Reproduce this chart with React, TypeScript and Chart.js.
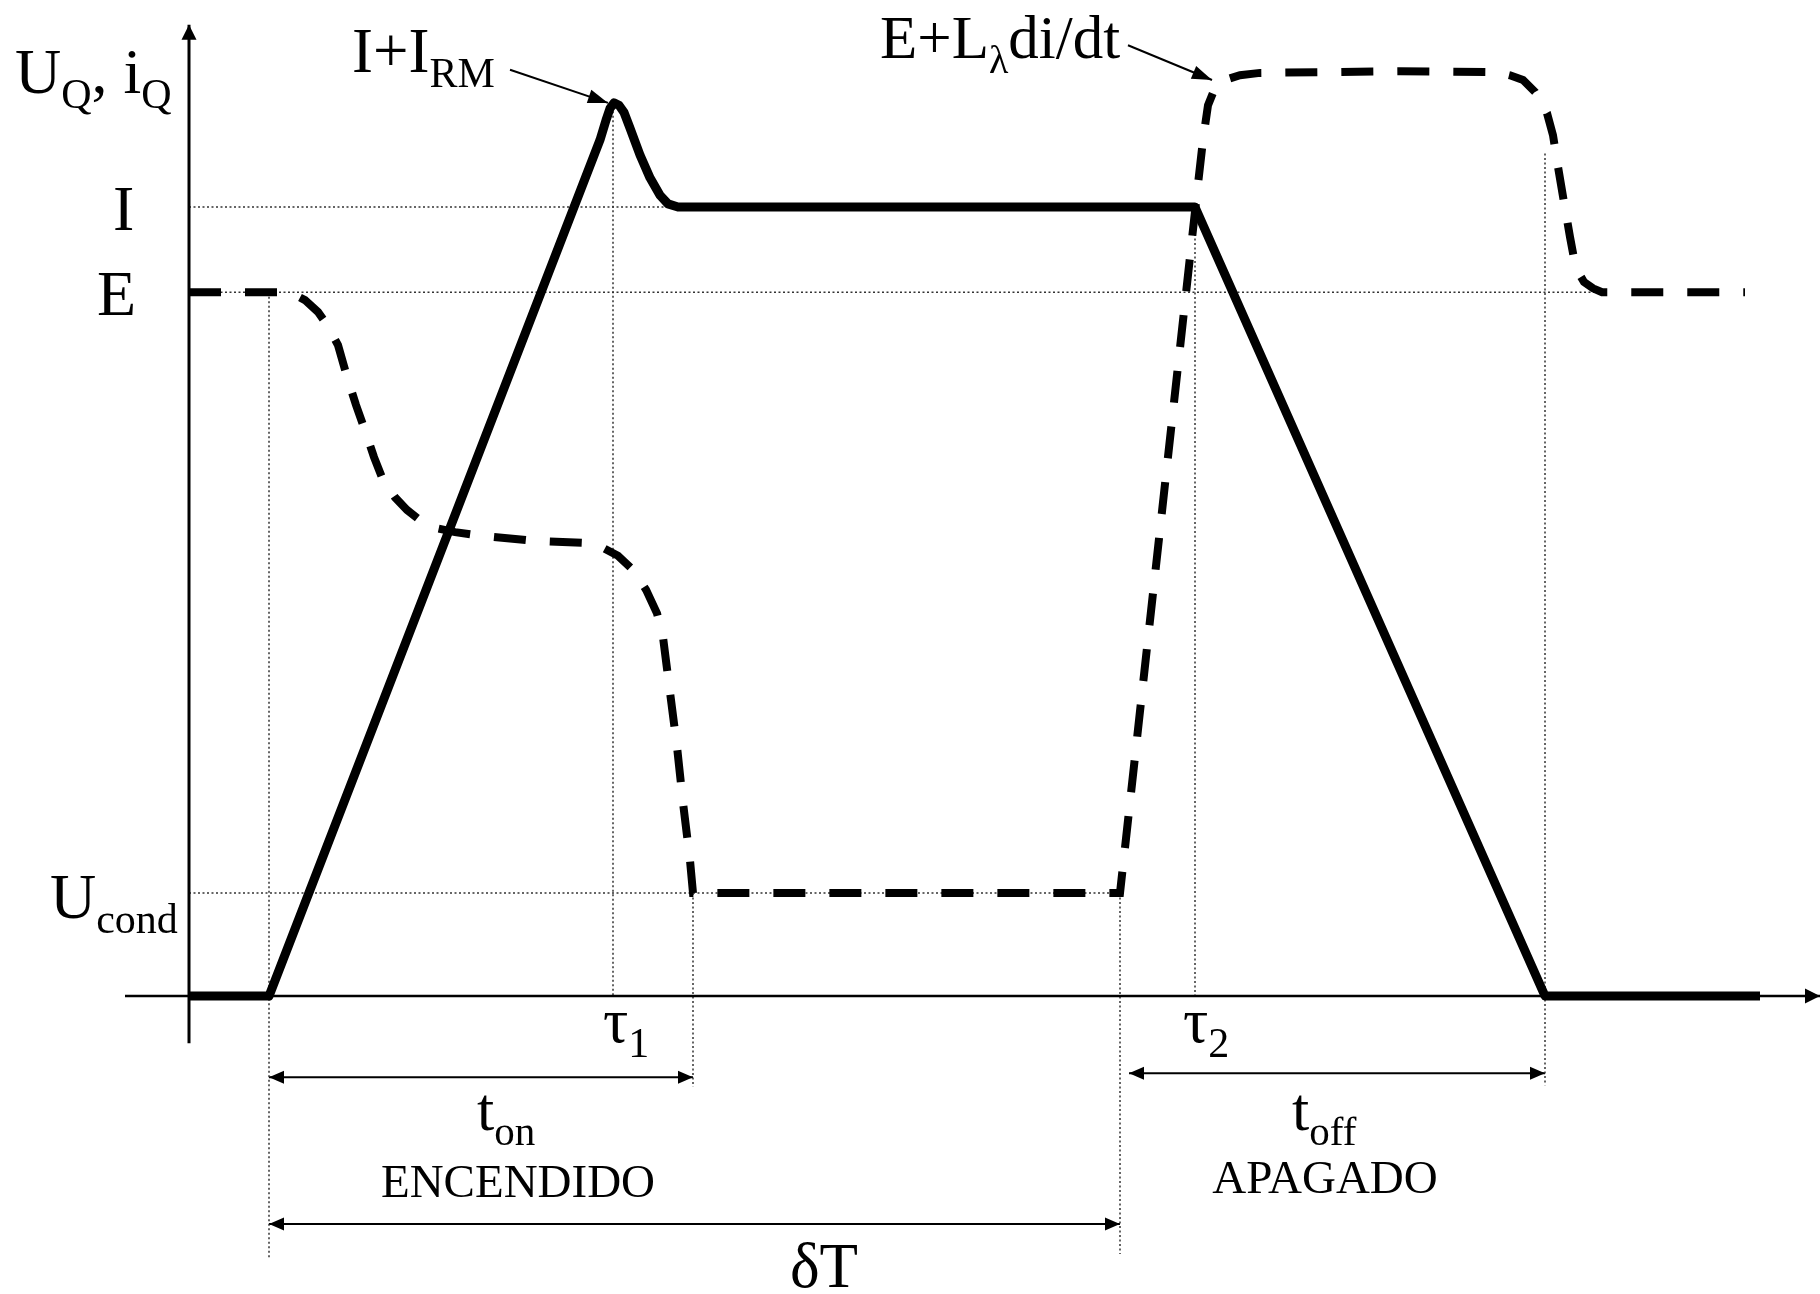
import React, { useEffect, useRef } from "react";
import { Chart, registerables } from "chart.js";
Chart.register(...registerables);

// ---- levels (arbitrary units, I = 100) ----
const I_LEVEL = 100;
const E_LEVEL = 89.2;
const U_COND = 13.05;

// ---- time marks (arbitrary units) ----
const T0 = 8;
const TAU1 = 42.4;
const TON_END = 50.4;
const TOFF_START = 93.1;
const TAU2 = 100.6;
const T_END = 135.6;

// ---- current waveform i_Q (solid) ----
const currentWave: number[][] = [
  [0, 0], [T0, 0], [41.1, 108.5], [41.7, 111.0], [42.1, 112.5], [42.5, 113.2],
  [43.0, 112.9], [43.5, 112.0], [44.1, 110.0], [45.1, 106.6], [46.1, 103.7],
  [47.1, 101.5], [47.9, 100.4], [48.9, I_LEVEL], [TAU2, I_LEVEL], [T_END, 0], [157.1, 0],
];

// ---- voltage waveform U_Q (dashed) ----
const voltageWave: number[][] = [
  [0, E_LEVEL], [9.1, E_LEVEL], [10.4, 89.0], [11.6, 88.2], [12.9, 86.7], [13.9, 84.9],
  [14.9, 82.5], [15.8, 78.5], [16.7, 74.9], [17.6, 71.7], [18.5, 68.3], [19.4, 65.4],
  [20.6, 63.2], [21.8, 61.6], [23.1, 60.3], [24.4, 59.4], [26.6, 58.8], [28.8, 58.4],
  [34.4, 57.7], [40.1, 57.4], [41.4, 56.8], [42.9, 55.8], [44.4, 54.0], [45.7, 51.5],
  [46.8, 48.5], [47.4, 45.5], [48.1, 38.5], [48.8, 31.6], [49.4, 24.5], [50.1, 17.2],
  [TON_END, U_COND], [TOFF_START, U_COND], [100.9, 102.9], [101.4, 108.5], [101.9, 112.9],
  [102.6, 115.1], [103.6, 116.1], [105.1, 116.7], [107.1, 117.0], [121.1, 117.2],
  [130.8, 117.1], [132.1, 116.7], [133.4, 116.1], [134.6, 114.6], [135.8, 111.9],
  [136.4, 109.1], [136.9, 105.1], [137.5, 100.6], [138.1, 96.2], [138.5, 93.5],
  [138.8, 92.0], [139.5, 90.5], [140.4, 89.7], [141.3, E_LEVEL], [155.6, E_LEVEL],
];

// ---- dotted guides: [x, yFrom, yTo] and [y, xFrom, xTo] ----
const verticalGuides: number[][] = [
  [T0, E_LEVEL, -33.1],
  [TAU1, 112.7, 0],
  [TON_END, U_COND, -11.5],
  [TOFF_START, U_COND, -32.7],
  [TAU2, I_LEVEL, 0],
  [T_END, 106.8, -11.3],
];
const horizontalGuides: number[][] = [
  [I_LEVEL, 0, TAU2],
  [E_LEVEL, 0, 141.3],
  [U_COND, 0, TOFF_START],
];

// ---- dimension arrows: [y, xFrom, xTo] ----
const dimensionArrows: number[][] = [
  [-10.3, T0, TON_END],
  [-28.9, T0, TOFF_START],
  [-9.8, 94.0, T_END],
];

// ---- annotation pointers: [xFrom, yFrom, xTo, yTo] ----
const pointers: number[][] = [
  [32.1, 117.4, 41.9, 113.2],
  [93.9, 120.5, 102.3, 116.1],
];

// ---- axes ----
const yAxisLine: number[][] = [[0, -6.0], [0, 123.1]];
const xAxisLine: number[][] = [[-6.4, 0], [163.1, 0]];

// ---- text labels: [text, x, y, fontSize, align] ----
const labels: [string, number, number, number, string][] = [
  ["U_{Q}, i_{Q}", -17.4, 114.4, 64, "left"],
  ["I", -7.6, 97.1, 64, "left"],
  ["E", -9.2, 86.3, 64, "left"],
  ["U_{cond}", -13.9, 9.9, 64, "left"],
  ["I+I_{RM}", 16.3, 117.1, 63, "left"],
  ["E+L_{λ}di/dt", 69.1, 118.9, 61, "left"],
  ["τ_{1}", 41.4, -5.8, 63, "left"],
  ["τ_{2}", 99.4, -5.8, 63, "left"],
  ["t_{on}", 28.8, -17.0, 62, "left"],
  ["ENCENDIDO", 32.9, -25.5, 47, "center"],
  ["t_{off}", 110.3, -17.0, 62, "left"],
  ["APAGADO", 113.6, -25.0, 47, "center"],
  ["δT", 63.5, -36.9, 63, "center"],
];

const X_MIN = -18.9, X_MAX = 163.1, Y_MIN = -37.77, Y_MAX = 126.24;
const FONT = '"Liberation Serif", "Times New Roman", serif';

const toPts = (arr: number[][]) => arr.map(([x, y]) => ({ x, y }));

function parseRich(text: string) {
  const parts: { t: string; sub: boolean }[] = [];
  const re = /_\{([^}]*)\}/g;
  let last = 0;
  let m: RegExpExecArray | null;
  while ((m = re.exec(text))) {
    if (m.index > last) parts.push({ t: text.slice(last, m.index), sub: false });
    parts.push({ t: m[1], sub: true });
    last = m.index + m[0].length;
  }
  if (last < text.length) parts.push({ t: text.slice(last), sub: false });
  return parts;
}

const arrowPlugin = {
  id: "arrowheads",
  afterDatasetsDraw(chart: any) {
    const ctx = chart.ctx;
    chart.data.datasets.forEach((ds: any, i: number) => {
      const head = ds.arrowHead;
      if (!head) return;
      const pts = chart.getDatasetMeta(i).data;
      if (!pts || pts.length < 2) return;
      const draw = (tip: any, from: any) => {
        const a = Math.atan2(tip.y - from.y, tip.x - from.x);
        const c = Math.cos(a), s = Math.sin(a);
        const L = head.len, H = head.half;
        ctx.save();
        ctx.fillStyle = "#000";
        ctx.beginPath();
        ctx.moveTo(tip.x, tip.y);
        ctx.lineTo(tip.x - L * c + H * s, tip.y - L * s - H * c);
        ctx.lineTo(tip.x - L * c - H * s, tip.y - L * s + H * c);
        ctx.closePath();
        ctx.fill();
        ctx.restore();
      };
      if (head.end) draw(pts[pts.length - 1], pts[pts.length - 2]);
      if (head.start) draw(pts[0], pts[1]);
    });
  },
};

const textPlugin = {
  id: "richLabels",
  afterDraw(chart: any) {
    const ctx = chart.ctx;
    const xs = chart.scales.x, ys = chart.scales.y;
    labels.forEach(([text, x, y, size, align]) => {
      const parts = parseRich(text);
      const subSize = Math.round(size * 0.66);
      const subShift = Math.round(size * 0.24);
      ctx.save();
      ctx.fillStyle = "#000";
      ctx.textBaseline = "alphabetic";
      ctx.textAlign = "left";
      let total = 0;
      const widths = parts.map((p) => {
        ctx.font = `${p.sub ? subSize : size}px ${FONT}`;
        const w = ctx.measureText(p.t).width;
        total += w;
        return w;
      });
      let px = xs.getPixelForValue(x);
      const py = ys.getPixelForValue(y);
      if (align === "center") px -= total / 2;
      parts.forEach((p, k) => {
        ctx.font = `${p.sub ? subSize : size}px ${FONT}`;
        ctx.fillText(p.t, px, py + (p.sub ? subShift : 0));
        px += widths[k];
      });
      ctx.restore();
    });
  },
};

export default function App() {
  const ref = useRef<HTMLCanvasElement>(null);
  useEffect(() => {
    document.body.style.margin = "0";
    const base = { showLine: true, pointRadius: 0, fill: false, tension: 0, borderColor: "#000" };
    const datasets: any[] = [
      { ...base, data: toPts(currentWave), borderWidth: 9, borderJoinStyle: "round" },
      { ...base, data: toPts(voltageWave), borderWidth: 8, borderDash: [32, 24], borderCapStyle: "butt" },
      { ...base, data: toPts(yAxisLine), borderWidth: 3, arrowHead: { end: true, len: 15, half: 7.5 } },
      { ...base, data: toPts(xAxisLine), borderWidth: 2.5, arrowHead: { end: true, len: 15, half: 7.5 } },
    ];
    verticalGuides.forEach(([x, y1, y2]) =>
      datasets.push({ ...base, data: toPts([[x, y1], [x, y2]]), borderWidth: 1.5, borderDash: [2, 2.5], borderColor: "#333" })
    );
    horizontalGuides.forEach(([y, x1, x2]) =>
      datasets.push({ ...base, data: toPts([[x1, y], [x2, y]]), borderWidth: 1.5, borderDash: [2, 2.5], borderColor: "#333" })
    );
    dimensionArrows.forEach(([y, x1, x2]) =>
      datasets.push({ ...base, data: toPts([[x1, y], [x2, y]]), borderWidth: 2, arrowHead: { start: true, end: true, len: 15, half: 6.5 } })
    );
    pointers.forEach(([x1, y1, x2, y2]) =>
      datasets.push({ ...base, data: toPts([[x1, y1], [x2, y2]]), borderWidth: 2, arrowHead: { end: true, len: 20, half: 7 } })
    );
    const chart = new Chart(ref.current as HTMLCanvasElement, {
      type: "scatter",
      data: { datasets },
      options: {
        animation: false,
        responsive: false,
        devicePixelRatio: 1,
        events: [],
        layout: { padding: 0 },
        plugins: { legend: { display: false }, tooltip: { enabled: false } },
        scales: {
          x: { type: "linear", min: X_MIN, max: X_MAX, display: false },
          y: { type: "linear", min: Y_MIN, max: Y_MAX, display: false },
        },
      },
      plugins: [arrowPlugin, textPlugin],
    } as any);
    return () => chart.destroy();
  }, []);
  return (
    <div style={{ position: "absolute", left: 0, top: 0, width: 1820, height: 1294, background: "#fff" }}>
      <canvas ref={ref} width={1820} height={1294} style={{ display: "block" }} />
    </div>
  );
}
